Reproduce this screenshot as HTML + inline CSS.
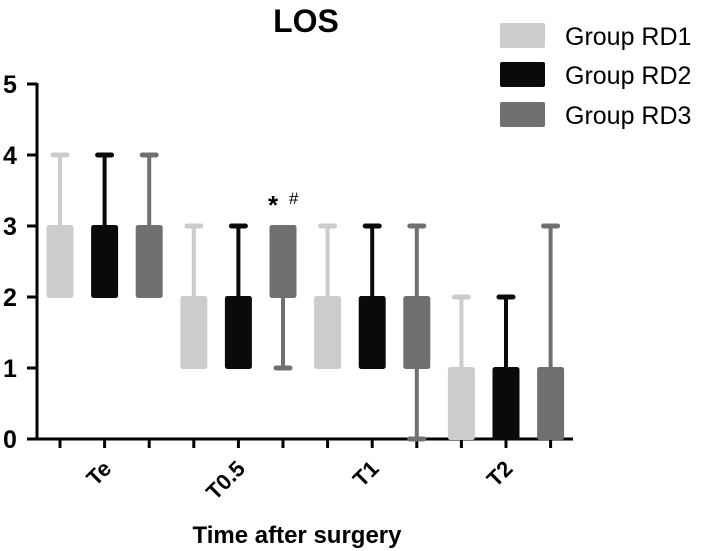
<!DOCTYPE html>
<html><head><meta charset="utf-8"><style>
body{margin:0;background:#fff;}
svg{display:block;font-family:"Liberation Sans",Arial,sans-serif;}
</style></head><body>
<svg id="chart" width="709" height="551" viewBox="0 0 709 551">
<text x="306" y="32" text-anchor="middle" font-size="32" font-weight="bold">LOS</text>
<g id="legend">
<g><rect x="500" y="23" width="45" height="25" rx="2" fill="#cccccc"/><text x="565" y="45" font-size="25">Group RD1</text></g>
<g><rect x="500" y="62" width="45" height="25" rx="2" fill="#0a0a0a"/><text x="565" y="84" font-size="25">Group RD2</text></g>
<g><rect x="500" y="102" width="45" height="25" rx="2" fill="#707070"/><text x="565" y="124" font-size="25">Group RD3</text></g>
</g>
<g id="axes"></g>
<g id="marks"></g>
<text x="268" y="214" font-size="26" font-weight="bold">*</text>
<text x="289" y="204" font-size="17">#</text>
<text x="297" y="543" text-anchor="middle" font-size="24" font-weight="bold">Time after surgery</text>
</svg>
<script>
const categories = ["Te","T0.5","T1","T2"];
const series = ["RD1","RD2","RD3"];
const mins = [[2,2,2],[1,1,1],[1,1,0],[0,0,0]];
const q1s  = [[2,2,2],[1,1,2],[1,1,1],[0,0,0]];
const q3s  = [[3,3,3],[2,2,3],[2,2,2],[1,1,1]];
const maxs = [[4,4,4],[3,3,3],[3,3,3],[2,2,3]];
const yTicks = [0,1,2,3,4,5];
const colors = ["#cccccc","#0a0a0a","#707070"];
const NS="http://www.w3.org/2000/svg";
const y0=439, yPer=71, xStart=60, xStep=44.6;
const yS=v=>y0-v*yPer;
const xS=(c,s)=>xStart+(c*3+s)*xStep;
const axes=document.getElementById('axes'), marks=document.getElementById('marks');
function mk(tag,attrs,parent){const e=document.createElementNS(NS,tag);for(const k in attrs)e.setAttribute(k,attrs[k]);parent.appendChild(e);return e;}
let e=mk('line',{x1:37,y1:yS(5)-1,x2:37,y2:y0+1.5,stroke:'#000','stroke-width':3},axes);


e=mk('line',{x1:27,y1:y0,x2:573,y2:y0,stroke:'#000','stroke-width':3},axes);


yTicks.forEach(v=>{
  const t=mk('line',{x1:27,y1:yS(v),x2:37,y2:yS(v),stroke:'#000','stroke-width':3},axes);
  
  
  const l=mk('text',{x:10,y:yS(v)+9,'text-anchor':'middle','font-size':25,'font-weight':'bold'},axes);
  l.textContent=v;
  
  
});
categories.forEach((c,ci)=>{
  series.forEach((s,si)=>{
    const x=xS(ci,si);
    const t=mk('line',{x1:x,y1:y0,x2:x,y2:y0+9,stroke:'#000','stroke-width':3},axes);
    
    
    const col=colors[si];
    const g=mk('g',{},marks);
    
    
    mk('line',{x1:x,y1:yS(maxs[ci][si]),x2:x,y2:yS(mins[ci][si]),stroke:col,'stroke-width':4},g);
    if(maxs[ci][si]>q3s[ci][si]) mk('line',{x1:x-7,y1:yS(maxs[ci][si]),x2:x+7,y2:yS(maxs[ci][si]),stroke:col,'stroke-width':5,'stroke-linecap':'round'},g);
    if(mins[ci][si]<q1s[ci][si]) mk('line',{x1:x-7,y1:yS(mins[ci][si]),x2:x+7,y2:yS(mins[ci][si]),stroke:col,'stroke-width':5,'stroke-linecap':'round'},g);
    mk('rect',{x:x-13.5,y:yS(q3s[ci][si])-1,width:27,height:(q3s[ci][si]-q1s[ci][si])*yPer+2,rx:2.5,fill:col},g);
  });
  const cx=xS(ci,1);
  const l=mk('text',{x:0,y:0,'text-anchor':'end','font-size':22,'font-weight':'bold',transform:`translate(${cx+8},${y0+31}) rotate(-45)`},axes);
  l.textContent=c;
  
  
});
</script>
</body></html>
